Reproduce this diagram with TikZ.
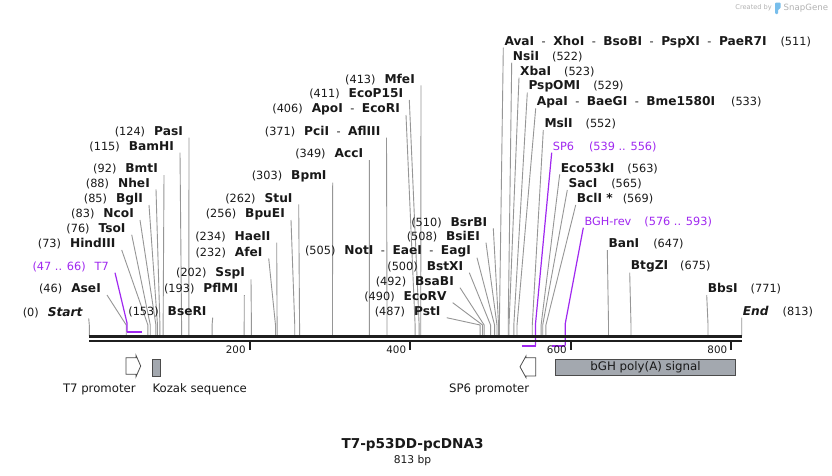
\documentclass[tikz,border=0pt]{standalone}
\usepackage{fontspec}
\setmainfont{DejaVu Sans}
\usetikzlibrary{positioning}

\definecolor{primer}{RGB}{160,40,240}
\definecolor{leadgray}{RGB}{150,150,150}
\definecolor{featfill}{RGB}{163,168,175}
\definecolor{featline}{RGB}{75,75,75}
\definecolor{txt}{RGB}{25,25,25}
\definecolor{logoblue}{RGB}{120,190,235}

% position (bp) -> x (px)
\newcommand{\bpx}[1]{89.3+0.8025*#1}
% enzyme name
\newcommand{\enz}[1]{{\fontsize{12.2}{14}\selectfont\bfseries #1}}
\newcommand{\sepr}{\hspace{7.5pt}-\hspace{7.5pt}}

\tikzset{
  lblL/.style={anchor=east, inner sep=0pt, text=txt, font=\fontsize{11.3}{13}\selectfont},
  lblR/.style={anchor=west, inner sep=0pt, text=txt, font=\fontsize{11.3}{13}\selectfont},
  leader/.style={draw=leadgray, line width=0.9pt},
  primerline/.style={draw=primer, line width=1.2pt},
  primerbar/.style={draw=primer, line width=2.2pt},
  backbone/.style={draw=black!88, line width=2.5pt},
  tickmark/.style={draw=black!88, line width=2pt},
  ticklbl/.style={anchor=east, inner sep=0pt, text=txt, font=\fontsize{10.3}{12}\selectfont},
  featbox/.style={draw=featline, fill=featfill, line width=0.8pt, inner sep=0pt, anchor=north west},
  promoter/.style={draw=featline, fill=white, line width=0.8pt},
  featlbl/.style={inner sep=0pt, text=txt, font=\fontsize{11.7}{13}\selectfont},
}

\begin{document}
\begin{tikzpicture}[x=1pt,y=-1pt]
\useasboundingbox[fill=white] (0,0) rectangle (832,475);

% sites with labels on the left
\foreach \nm/\bp/\lx/\ly/\txt in {
  Start/0/82.7/312.3/{(0)\hspace{9pt}\enz{\itshape Start}},
  AseI/46/101/289/{(46)\hspace{9pt}\enz{AseI}},
  HindIII/73/115.7/244/{(73)\hspace{9pt}\enz{HindIII}},
  TsoI/76/125.7/228.7/{(76)\hspace{9pt}\enz{TsoI}},
  NcoI/83/134/214/{(83)\hspace{9pt}\enz{NcoI}},
  BglI/85/143/199/{(85)\hspace{9pt}\enz{BglI}},
  NheI/88/150/183.3/{(88)\hspace{9pt}\enz{NheI}},
  BmtI/92/158/169/{(92)\hspace{9pt}\enz{BmtI}},
  BamHI/115/174/146.7/{(115)\hspace{9pt}\enz{BamHI}},
  PasI/124/183/131.7/{(124)\hspace{9pt}\enz{PasI}},
  BseRI/153/206.7/311.7/{(153)\hspace{9pt}\enz{BseRI}},
  PflMI/193/238.3/289/{(193)\hspace{9pt}\enz{PflMI}},
  SspI/202/245/273.3/{(202)\hspace{9pt}\enz{SspI}},
  AfeI/232/262.7/252.3/{(232)\hspace{9pt}\enz{AfeI}},
  HaeII/234/270.7/236.7/{(234)\hspace{9pt}\enz{HaeII}},
  BpuEI/256/285/214/{(256)\hspace{9pt}\enz{BpuEI}},
  StuI/262/292.7/198.3/{(262)\hspace{9pt}\enz{StuI}},
  BpmI/303/326.7/176.7/{(303)\hspace{9pt}\enz{BpmI}},
  AccI/349/363.3/154/{(349)\hspace{9pt}\enz{AccI}},
  PciI/371/380.5/131.7/{(371)\hspace{9pt}\enz{PciI}\sepr\enz{AflIII}},
  ApoI/406/400/109/{(406)\hspace{9pt}\enz{ApoI}\sepr\enz{EcoRI}},
  EcoP15I/411/403.3/94/{(411)\hspace{9pt}\enz{EcoP15I}},
  MfeI/413/415/79.3/{(413)\hspace{9pt}\enz{MfeI}},
  PstI/487/440.7/311.7/{(487)\hspace{9pt}\enz{PstI}},
  EcoRV/490/446.7/296.7/{(490)\hspace{9pt}\enz{EcoRV}},
  BsaBI/492/454/281.7/{(492)\hspace{9pt}\enz{BsaBI}},
  BstXI/500/463.3/266.7/{(500)\hspace{9pt}\enz{BstXI}},
  NotI/505/471/251.7/{(505)\hspace{9pt}\enz{NotI}\sepr\enz{EaeI}\sepr\enz{EagI}},
  BsiEI/508/480/236.7/{(508)\hspace{9pt}\enz{BsiEI}},
  BsrBI/510/487.3/222.3/{(510)\hspace{9pt}\enz{BsrBI}}}{
  \node[lblL] (n\nm) at (\lx,\ly) {\txt};
  \coordinate (c\nm) at ({\bpx{\bp}},336);
  \draw[leader] ([shift={(6,6)}]n\nm.east) -- ([yshift=11pt]c\nm) -- (c\nm);
}

% sites with labels on the right
\foreach \nm/\bp/\lx/\ly/\txt in {
  AvaI/511/504.3/41.7/{\enz{AvaI}\sepr\enz{XhoI}\sepr\enz{BsoBI}\sepr\enz{PspXI}\sepr\enz{PaeR7I}\hspace{14pt}(511)},
  NsiI/522/512.7/56.7/{\enz{NsiI}\hspace{13pt}(522)},
  XbaI/523/520/71.7/{\enz{XbaI}\hspace{13pt}(523)},
  PspOMI/529/528.3/86.7/{\enz{PspOMI}\hspace{13pt}(529)},
  ApaI/533/536.7/102.3/{\enz{ApaI}\sepr\enz{BaeGI}\sepr\enz{Bme1580I}\hspace{16pt}(533)},
  MslI/552/544.3/124/{\enz{MslI}\hspace{13pt}(552)},
  Eco53kI/563/560.7/168.3/{\enz{Eco53kI}\hspace{13pt}(563)},
  SacI/565/568.3/184/{\enz{SacI}\hspace{14pt}(565)},
  BclI/569/576.7/199/{\enz{BclI *}\hspace{10pt}(569)},
  BanI/647/608.3/244/{\enz{BanI}\hspace{14pt}(647)},
  BtgZI/675/630.7/266.7/{\enz{BtgZI}\hspace{12pt}(675)},
  BbsI/771/707.7/289/{\enz{BbsI}\hspace{13pt}(771)},
  End/813/742.7/311.7/{\enz{\itshape End}\hspace{14pt}(813)}}{
  \node[lblR] (n\nm) at (\lx,\ly) {\txt};
  \coordinate (c\nm) at ({\bpx{\bp}},336);
  \draw[leader] ([shift={(-1,6)}]n\nm.west) -- ([yshift=11pt]c\nm) -- (c\nm);
}

% primers
\node[lblL, text=primer] (nT7) at (109,266.7) {(47 .. 66)\hspace{9pt}T7};
\coordinate (pT7a) at ({\bpx{47}},332);
\coordinate (pT7b) at ({\bpx{66}},332);
\draw[primerline] ([shift={(6,6)}]nT7.east) -- ([yshift=9pt]pT7a) -- (pT7a);
\draw[primerbar] (pT7a) -- (pT7b);

\node[lblR, text=primer] (nSP6) at (552.7,146.7) {SP6\hspace{15pt}(539 .. 556)};
\coordinate (pSP6a) at ({\bpx{539}},345.7);
\coordinate (pSP6b) at ({\bpx{556}},345.7);
\draw[primerline] ([shift={(-1,6)}]nSP6.west) -- ([yshift=21.7pt]pSP6b) -- (pSP6b);
\draw[primerbar] (pSP6a) -- (pSP6b);

\node[lblR, text=primer] (nBGH) at (584.3,221.7) {BGH-rev\hspace{13pt}(576 .. 593)};
\coordinate (pBGHa) at ({\bpx{576}},345.7);
\coordinate (pBGHb) at ({\bpx{593}},345.7);
\draw[primerline] ([shift={(-1,6)}]nBGH.west) -- ([yshift=21.7pt]pBGHb) -- (pBGHb);
\draw[primerbar] (pBGHa) -- (pBGHb);

% backbone
\coordinate (bbL) at ({\bpx{0}},336.5);
\coordinate (bbR) at ({\bpx{813}},336.5);
\draw[backbone] (bbL) -- (bbR);
\draw[backbone] ([yshift=-4.7pt]bbL) -- ([yshift=-4.7pt]bbR);

% ruler
\foreach \t in {200,400,600,800}{
  \coordinate (t\t) at ({\bpx{\t}},342);
  \draw[tickmark] (t\t) -- ++(0,8);
  \node[ticklbl] (tl\t) at ([xshift=-4pt,yshift=-7.5pt]t\t) {\t};
}

% features
\draw[promoter] (126,357.7) -- (136,357.7) -- (136,355.3) -- (140.7,366) -- (136,376.7) -- (136,374.3) -- (126,374.3) -- cycle;
\node[featbox, minimum width=8pt, minimum height=16.4pt] (kozak) at (152.3,359.3) {};
\draw[promoter] (535.7,357.7) -- (526,357.7) -- (526,356) -- (520,366.8) -- (526,377.6) -- (526,376) -- (535.7,376) -- cycle;
\node[featbox, minimum width=180.3pt, minimum height=15.7pt, text=txt, font=\fontsize{11.8}{13}\selectfont] (bGH) at (555,359.3) {bGH poly(A) signal};

\node[featlbl] (T7proLbl) at (99.3,389) {T7 promoter};
\node[featlbl, anchor=west] (kozakLbl) at (152.3,389) {Kozak sequence};
\node[featlbl, anchor=east] (SP6proLbl) at (529.3,389) {SP6 promoter};

% title
\node[inner sep=0pt, text=txt, font=\fontsize{13.6}{16}\selectfont\bfseries] (title) at (412.5,445) {T7-p53DD-pcDNA3};
\node[below=3pt of title, inner sep=0pt, text=txt, font=\fontsize{10.7}{12}\selectfont] (bplen) {813 bp};

% credit
\node[anchor=east, inner sep=0pt, text=black!30, font=\fontsize{6.6}{8}\selectfont] (credit) at (772,8) {Created by};
\fill[logoblue, rounded corners=1pt] (775,2.5) -- (780.5,2.5) -- (780.5,8.5) -- (778,9.5) -- (778,14) -- (775,14) -- cycle;
\node[anchor=west, inner sep=0pt, text=black!30, font=\fontsize{8.6}{10}\selectfont] (snapgene) at (783.5,8) {SnapGene};
\end{tikzpicture}
\end{document}
